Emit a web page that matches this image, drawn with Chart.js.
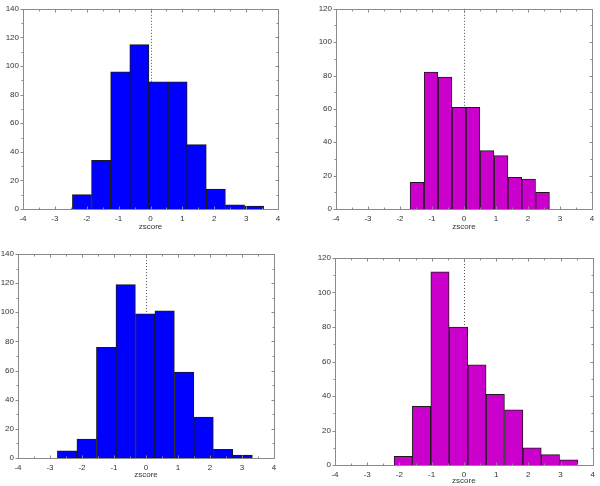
<!DOCTYPE html>
<html>
<head>
<meta charset="utf-8">
<script src="https://cdn.jsdelivr.net/npm/chart.js@4"></script>
<style>
  body { margin: 0; background: #fff; }
  #wrap { position: relative; width: 600px; height: 486px; }
  .panel { position: absolute; }
</style>
</head>
<body>
<div id="wrap">
  <div class="panel" style="left:0;top:0;width:295px;height:232px"><canvas id="c1"></canvas></div>
  <div class="panel" style="left:310px;top:0;width:290px;height:232px"><canvas id="c2"></canvas></div>
  <div class="panel" style="left:0;top:245px;width:290px;height:235px"><canvas id="c3"></canvas></div>
  <div class="panel" style="left:310px;top:245px;width:290px;height:241px"><canvas id="c4"></canvas></div>
</div>
<script>
// bin edges and counts for each histogram
const edges1 = [-2.45, -1.85, -1.25, -0.65, -0.05, 0.55, 1.15, 1.75, 2.35, 2.95, 3.55];
const counts1 = [10, 34, 96, 115, 89, 89, 45, 14, 3, 2];
const edges2 = [-1.69, -1.25, -0.81, -0.375, 0.06, 0.5, 0.94, 1.375, 1.8, 2.24, 2.67];
const counts2 = [16, 82, 79, 61, 61, 35, 32, 19, 18, 10];
const edges3 = [-2.77, -2.16, -1.55, -0.94, -0.33, 0.28, 0.885, 1.5, 2.1, 2.72, 3.32];
const counts3 = [5, 13, 76, 119, 99, 101, 59, 28, 6, 2];
const edges4 = [-2.165, -1.6, -1.03, -0.454, 0.12, 0.69, 1.26, 1.835, 2.4, 2.97, 3.54];
const counts4 = [5, 34, 112, 80, 58, 41, 32, 10, 6, 3];

const xTicks = [-4, -3, -2, -1, 0, 1, 2, 3, 4];
const yMax1 = 140, yMax2 = 120, yMax3 = 140, yMax4 = 120;

const BLUE = '#0000ff';
const MAGENTA = '#cc00cc';
const AXIS = '#8a8a8a';
const FONT = 'Liberation Sans, Arial, sans-serif';

// frame, ticks on all sides and dotted zero line
const framePlugin = {
    id: 'frame',
    beforeDatasetsDraw(chart) {
        const { ctx, chartArea: a, scales: { x } } = chart;
        ctx.save();
        ctx.strokeStyle = '#555';
        ctx.lineWidth = 1;
        ctx.setLineDash([1, 2]);
        const x0 = Math.round(x.getPixelForValue(0)) + 0.5;
        ctx.beginPath();
        ctx.moveTo(x0, a.top);
        ctx.lineTo(x0, a.bottom);
        ctx.stroke();
        ctx.restore();
    },
    afterDatasetsDraw(chart) {
        const { ctx, chartArea: a, scales: { x, y } } = chart;
        ctx.save();
        ctx.strokeStyle = AXIS;
        ctx.lineWidth = 1;
        const l = Math.round(a.left) + 0.5, r = Math.round(a.right) + 0.5;
        const t = Math.round(a.top) + 0.5, b = Math.round(a.bottom) + 0.5;
        ctx.strokeRect(l, t, r - l, b - t);
        ctx.beginPath();
        for (let v = x.min; v <= x.max + 1e-9; v += 0.5) {
            const px = Math.round(x.getPixelForValue(v)) + 0.5;
            const len = Number.isInteger(v) ? 3 : 2;
            ctx.moveTo(px, b); ctx.lineTo(px, b - len);
            ctx.moveTo(px, t); ctx.lineTo(px, t + len);
        }
        for (let v = 0; v <= y.max + 1e-9; v += 10) {
            const py = Math.round(y.getPixelForValue(v)) + 0.5;
            const len = v % 20 === 0 ? 3 : 2;
            ctx.moveTo(l - len, py); ctx.lineTo(l, py);
            ctx.moveTo(r, py); ctx.lineTo(r - len, py);
        }
        ctx.stroke();
        ctx.restore();
    }
};

function makeHist(id, edges, counts, yMax, color, yWidth, xHeight, pad) {
    const points = counts.map((c, i) => ({ x: (edges[i] + edges[i + 1]) / 2, y: c }));
    new Chart(document.getElementById(id), {
        type: 'bar',
        data: {
            datasets: [{
                data: points,
                backgroundColor: color,
                borderColor: '#1a1a1a',
                borderWidth: 1,
                barPercentage: 1,
                categoryPercentage: 1
            }]
        },
        options: {
            responsive: true,
            maintainAspectRatio: false,
            animation: false,
            layout: { padding: pad },
            plugins: { legend: { display: false }, tooltip: { enabled: false } },
            scales: {
                x: {
                    type: 'linear',
                    offset: false,
                    min: -4,
                    max: 4,
                    afterBuildTicks: s => { s.ticks = xTicks.map(v => ({ value: v })); },
                    afterFit: s => { s.height = xHeight; },
                    grid: { display: false, drawTicks: false, offset: false },
                    border: { display: false },
                    ticks: { color: '#333', padding: 5, font: { family: FONT, size: 8 } },
                    title: { display: true, text: 'zscore', color: '#333', padding: 0, font: { family: FONT, size: 8 } }
                },
                y: {
                    min: 0,
                    max: yMax,
                    afterFit: s => { s.width = yWidth; },
                    grid: { display: false, drawTicks: false },
                    border: { display: false },
                    ticks: { stepSize: 20, color: '#333', padding: 4, font: { family: FONT, size: 8 } }
                }
            }
        },
        plugins: [framePlugin]
    });
}

makeHist('c1', edges1, counts1, yMax1, BLUE, 23, 23, { top: 5, right: 17 });
makeHist('c2', edges2, counts2, yMax2, MAGENTA, 26, 23, { top: 5, right: 8 });
makeHist('c3', edges3, counts3, yMax3, BLUE, 18, 22, { top: 9, right: 16 });
makeHist('c4', edges4, counts4, yMax4, MAGENTA, 25, 21, { top: 13, right: 7 });
</script>
</body>
</html>
